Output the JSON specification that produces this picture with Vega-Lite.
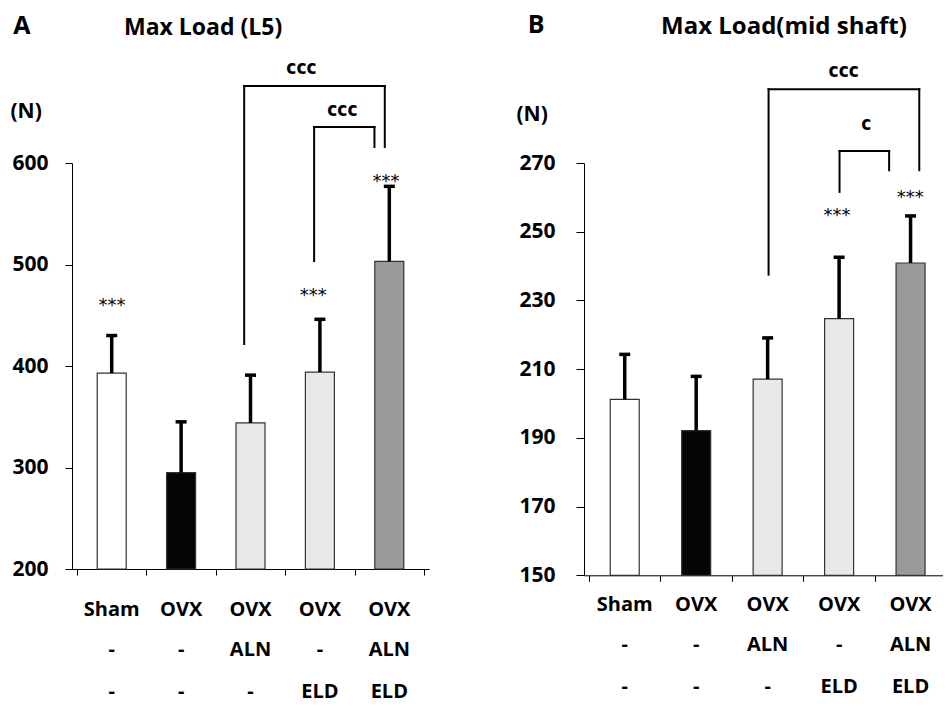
{
  "$schema": "https://vega.github.io/schema/vega-lite/v6.json",
  "background": "white",
  "padding": {"left": 10, "top": 13, "right": 0, "bottom": 0},
  "spacing": 87,
  "config": {
    "view": {"stroke": null},
    "font": "Open Sans",
    "axis": {"grid": false, "domainColor": "black", "tickColor": "black", "labelColor": "black", "titleColor": "black", "labelFont": "Open Sans", "labelFontWeight": "bold", "titleFont": "Open Sans", "titleFontWeight": "bold"}
  },
  "resolve": {"scale": {"x": "independent", "y": "independent", "fill": "independent"}},
  "hconcat": [
    {
      "width": 357,
      "height": 406,
      "title": {"text": "Max Load (L5)", "frame": "group", "anchor": "start", "dx": 52, "offset": -44.5, "baseline": "alphabetic", "fontSize": 23, "font": "Open Sans", "fontWeight": "bold", "color": "black"},
      "layer": [
        {
          "data": {"values": [
            {"group": "Sham", "pos": 1, "mean": 393, "upper": 430, "model": "Sham", "aln": "-", "eld": "-"},
            {"group": "OVX", "pos": 2, "mean": 295, "upper": 345, "model": "OVX", "aln": "-", "eld": "-"},
            {"group": "OVX+ALN", "pos": 3, "mean": 344, "upper": 391, "model": "OVX", "aln": "ALN", "eld": "-"},
            {"group": "OVX+ELD", "pos": 4, "mean": 394, "upper": 446, "model": "OVX", "aln": "-", "eld": "ELD"},
            {"group": "OVX+ALN+ELD", "pos": 5, "mean": 503, "upper": 577, "model": "OVX", "aln": "ALN", "eld": "ELD"}
          ]},
          "layer": [
            {
              "mark": {"type": "bar", "size": 29, "stroke": "#333333", "strokeWidth": 1.2},
              "encoding": {
                "x": {"field": "pos", "type": "quantitative", "scale": {"domain": [0.5, 5.5], "nice": false, "zero": false},
                  "axis": {"values": [0.5, 1.5, 2.5, 3.5, 4.5, 5.5], "title": null, "tickSize": 6, "labels": false}},
                "y": {"field": "mean", "type": "quantitative", "scale": {"domain": [200, 600], "nice": false, "zero": false},
                  "axis": {"values": [200, 300, 400, 500, 600], "title": "(N)", "titleAngle": 0, "titleAlign": "left", "titleBaseline": "middle", "titleX": -62, "titleY": -52, "titleFontSize": 21, "labelFontSize": 21, "labelPadding": 17, "tickSize": 7}},
                "y2": {"datum": 200},
                "fill": {"field": "group", "type": "nominal", "scale": {"domain": ["Sham", "OVX", "OVX+ALN", "OVX+ELD", "OVX+ALN+ELD"], "range": ["#ffffff", "#050505", "#e8e8e8", "#e8e8e8", "#9a9a9a"]}, "legend": null}
              }
            },
            {
              "mark": {"type": "rule", "strokeWidth": 3.5, "color": "black"},
              "encoding": {"x": {"field": "pos", "type": "quantitative"}, "y": {"field": "mean", "type": "quantitative"}, "y2": {"field": "upper"}}
            },
            {
              "mark": {"type": "tick", "orient": "horizontal", "size": 11, "thickness": 3.5, "color": "black", "opacity": 1},
              "encoding": {"x": {"field": "pos", "type": "quantitative"}, "y": {"field": "upper", "type": "quantitative"}}
            },
            {
              "mark": {"type": "text", "font": "Open Sans", "fontWeight": "bold", "fontSize": 20, "baseline": "alphabetic", "align": "center", "color": "black", "dy": 47},
              "encoding": {"x": {"field": "pos", "type": "quantitative"}, "y": {"datum": 200}, "text": {"field": "model"}}
            },
            {
              "mark": {"type": "text", "font": "Open Sans", "fontWeight": "bold", "fontSize": 20, "baseline": "alphabetic", "align": "center", "color": "black", "dy": 86.5},
              "encoding": {"x": {"field": "pos", "type": "quantitative"}, "y": {"datum": 200}, "text": {"field": "aln"}}
            },
            {
              "mark": {"type": "text", "font": "Open Sans", "fontWeight": "bold", "fontSize": 20, "baseline": "alphabetic", "align": "center", "color": "black", "dy": 128.5},
              "encoding": {"x": {"field": "pos", "type": "quantitative"}, "y": {"datum": 200}, "text": {"field": "eld"}}
            }
          ]
        },
        {
          "data": {"values": [
            {"pos": 1.004, "y": 453.9, "label": "***"},
            {"pos": 3.903, "y": 463.7, "label": "***"},
            {"pos": 4.954, "y": 576, "label": "***"}
          ]},
          "mark": {"type": "text", "font": "DejaVu Sans", "fontSize": 18, "baseline": "alphabetic", "align": "center", "color": "black"},
          "encoding": {"x": {"field": "pos", "type": "quantitative"}, "y": {"field": "y", "type": "quantitative"}, "text": {"field": "label"}}
        },
        {
          "data": {"values": [
            {"x": 2.909, "x2": 2.909, "y": 421.7, "y2": 675.9},
            {"x": 2.909, "x2": 4.935, "y": 675.9, "y2": 675.9},
            {"x": 4.935, "x2": 4.935, "y": 675.9, "y2": 615.8},
            {"x": 3.917, "x2": 3.917, "y": 503.4, "y2": 635.5},
            {"x": 3.917, "x2": 4.786, "y": 635.5, "y2": 635.5},
            {"x": 4.786, "x2": 4.786, "y": 635.5, "y2": 615.8}
          ]},
          "mark": {"type": "rule", "strokeWidth": 2, "color": "black", "strokeCap": "square"},
          "encoding": {"x": {"field": "x", "type": "quantitative"}, "x2": {"field": "x2"}, "y": {"field": "y", "type": "quantitative"}, "y2": {"field": "y2"}}
        },
        {
          "data": {"values": [
            {"x": 3.735, "y": 687.7, "label": "ccc"},
            {"x": 4.324, "y": 646.6, "label": "ccc"}
          ]},
          "mark": {"type": "text", "font": "Liberation Sans Narrow, DejaVu Sans Condensed", "fontWeight": "bold", "fontSize": 19, "baseline": "alphabetic", "align": "center", "color": "black"},
          "encoding": {"x": {"field": "x", "type": "quantitative"}, "y": {"field": "y", "type": "quantitative"}, "text": {"field": "label"}}
        },
        {
          "data": {"values": [{"letter": "A", "x": -0.42, "y": 727.5}]},
          "mark": {"type": "text", "font": "Open Sans", "fontWeight": "bold", "fontSize": 25, "baseline": "alphabetic", "align": "left", "color": "black"},
          "encoding": {"x": {"field": "x", "type": "quantitative"}, "y": {"field": "y", "type": "quantitative"}, "text": {"field": "letter"}}
        }
      ]
    },
    {
      "width": 359,
      "height": 412.3,
      "title": {"text": "Max Load(mid shaft)", "frame": "group", "anchor": "start", "dx": 77, "offset": -44.5, "baseline": "alphabetic", "fontSize": 24, "font": "Open Sans", "fontWeight": "bold", "color": "black"},
      "layer": [
        {
          "data": {"values": [
            {"group": "Sham", "pos": 1, "mean": 201.2, "upper": 214.3, "model": "Sham", "aln": "-", "eld": "-"},
            {"group": "OVX", "pos": 2, "mean": 192.1, "upper": 207.9, "model": "OVX", "aln": "-", "eld": "-"},
            {"group": "OVX+ALN", "pos": 3, "mean": 207.1, "upper": 219.1, "model": "OVX", "aln": "ALN", "eld": "-"},
            {"group": "OVX+ELD", "pos": 4, "mean": 224.7, "upper": 242.6, "model": "OVX", "aln": "-", "eld": "ELD"},
            {"group": "OVX+ALN+ELD", "pos": 5, "mean": 240.9, "upper": 254.6, "model": "OVX", "aln": "ALN", "eld": "ELD"}
          ]},
          "layer": [
            {
              "mark": {"type": "bar", "size": 29, "stroke": "#333333", "strokeWidth": 1.2},
              "encoding": {
                "x": {"field": "pos", "type": "quantitative", "scale": {"domain": [0.5, 5.384], "nice": false, "zero": false},
                  "axis": {"values": [0.5, 1.5, 2.5, 3.5, 4.5], "title": null, "tickSize": 6, "labels": false}},
                "y": {"field": "mean", "type": "quantitative", "scale": {"domain": [150, 270], "nice": false, "zero": false},
                  "axis": {"values": [150, 170, 190, 210, 230, 250, 270], "title": "(N)", "titleAngle": 0, "titleAlign": "left", "titleBaseline": "middle", "titleX": -68, "titleY": -49, "titleFontSize": 21, "labelFontSize": 21, "labelPadding": 21, "tickSize": 8}},
                "y2": {"datum": 150},
                "fill": {"field": "group", "type": "nominal", "scale": {"domain": ["Sham", "OVX", "OVX+ALN", "OVX+ELD", "OVX+ALN+ELD"], "range": ["#ffffff", "#050505", "#e8e8e8", "#e8e8e8", "#9a9a9a"]}, "legend": null}
              }
            },
            {
              "mark": {"type": "rule", "strokeWidth": 3.5, "color": "black"},
              "encoding": {"x": {"field": "pos", "type": "quantitative"}, "y": {"field": "mean", "type": "quantitative"}, "y2": {"field": "upper"}}
            },
            {
              "mark": {"type": "tick", "orient": "horizontal", "size": 11, "thickness": 3.5, "color": "black", "opacity": 1},
              "encoding": {"x": {"field": "pos", "type": "quantitative"}, "y": {"field": "upper", "type": "quantitative"}}
            },
            {
              "mark": {"type": "text", "font": "Open Sans", "fontWeight": "bold", "fontSize": 20, "baseline": "alphabetic", "align": "center", "color": "black", "dy": 35.5},
              "encoding": {"x": {"field": "pos", "type": "quantitative"}, "y": {"datum": 150}, "text": {"field": "model"}}
            },
            {
              "mark": {"type": "text", "font": "Open Sans", "fontWeight": "bold", "fontSize": 20, "baseline": "alphabetic", "align": "center", "color": "black", "dy": 75.5},
              "encoding": {"x": {"field": "pos", "type": "quantitative"}, "y": {"datum": 150}, "text": {"field": "aln"}}
            },
            {
              "mark": {"type": "text", "font": "Open Sans", "fontWeight": "bold", "fontSize": 20, "baseline": "alphabetic", "align": "center", "color": "black", "dy": 118},
              "encoding": {"x": {"field": "pos", "type": "quantitative"}, "y": {"datum": 150}, "text": {"field": "eld"}}
            }
          ]
        },
        {
          "data": {"values": [
            {"pos": 3.97, "y": 253.0, "label": "***"},
            {"pos": 4.994, "y": 258.5, "label": "***"}
          ]},
          "mark": {"type": "text", "font": "DejaVu Sans", "fontSize": 18, "baseline": "alphabetic", "align": "center", "color": "black"},
          "encoding": {"x": {"field": "pos", "type": "quantitative"}, "y": {"field": "y", "type": "quantitative"}, "text": {"field": "label"}}
        },
        {
          "data": {"values": [
            {"x": 3.013, "x2": 3.013, "y": 237.5, "y2": 291.5},
            {"x": 3.013, "x2": 5.122, "y": 291.5, "y2": 291.5},
            {"x": 5.122, "x2": 5.122, "y": 291.5, "y2": 267.9},
            {"x": 4.006, "x2": 4.006, "y": 261.6, "y2": 273.5},
            {"x": 4.006, "x2": 4.7, "y": 273.5, "y2": 273.5},
            {"x": 4.7, "x2": 4.7, "y": 273.5, "y2": 267.9}
          ]},
          "mark": {"type": "rule", "strokeWidth": 2, "color": "black", "strokeCap": "square"},
          "encoding": {"x": {"field": "x", "type": "quantitative"}, "x2": {"field": "x2"}, "y": {"field": "y", "type": "quantitative"}, "y2": {"field": "y2"}}
        },
        {
          "data": {"values": [
            {"x": 4.065, "y": 295.1, "label": "ccc"},
            {"x": 4.382, "y": 279.5, "label": "c"}
          ]},
          "mark": {"type": "text", "font": "Liberation Sans Narrow, DejaVu Sans Condensed", "fontWeight": "bold", "fontSize": 19, "baseline": "alphabetic", "align": "center", "color": "black"},
          "encoding": {"x": {"field": "x", "type": "quantitative"}, "y": {"field": "y", "type": "quantitative"}, "text": {"field": "label"}}
        },
        {
          "data": {"values": [{"letter": "B", "x": -0.357, "y": 307.7}]},
          "mark": {"type": "text", "font": "Open Sans", "fontWeight": "bold", "fontSize": 25, "baseline": "alphabetic", "align": "left", "color": "black"},
          "encoding": {"x": {"field": "x", "type": "quantitative"}, "y": {"field": "y", "type": "quantitative"}, "text": {"field": "letter"}}
        }
      ]
    }
  ]
}
